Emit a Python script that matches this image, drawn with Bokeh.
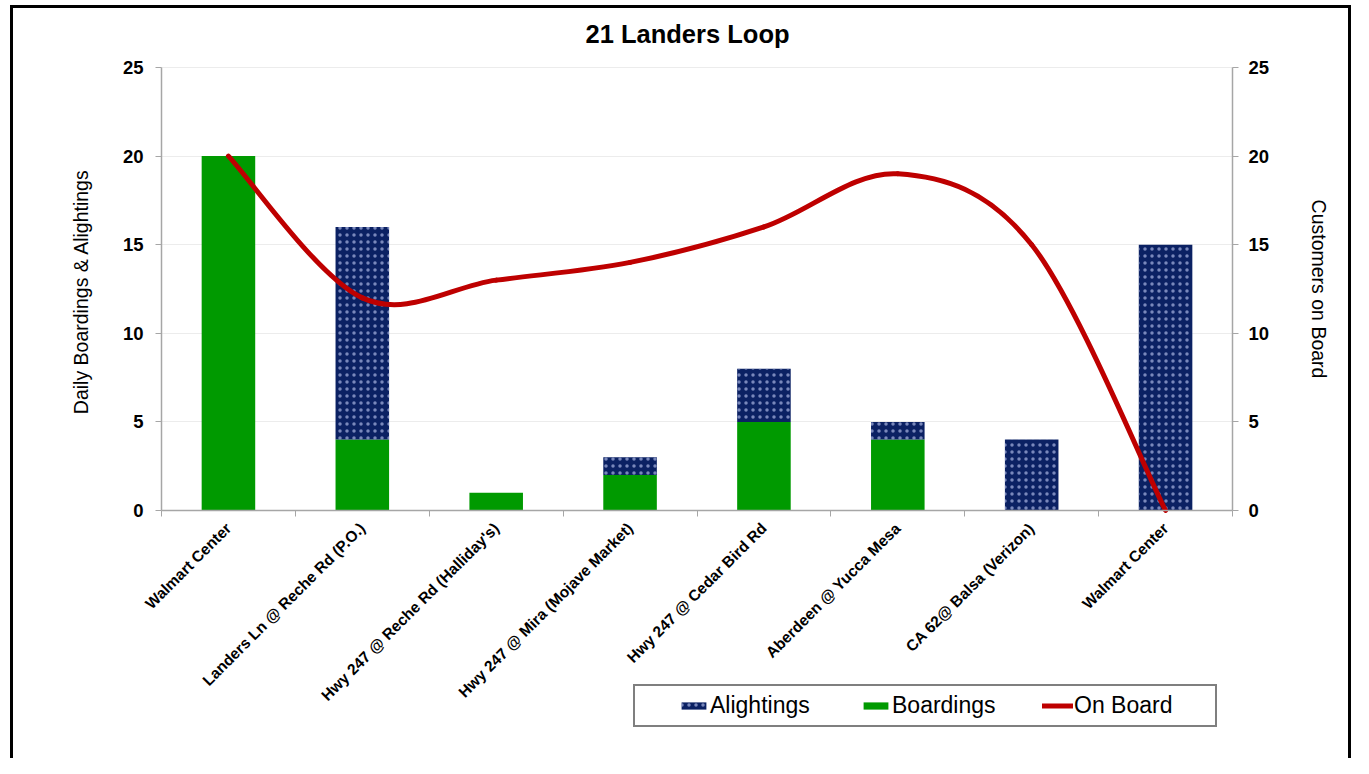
import math
from bokeh.plotting import figure
from bokeh.models import Range1d, LinearAxis, FixedTicker, Legend, LegendItem, Label
from bokeh.embed import file_html
from bokeh.resources import INLINE

# ---- data ----
stops = [
    "Walmart Center",
    "Landers Ln @ Reche Rd (P.O.)",
    "Hwy 247 @ Reche Rd (Halliday's)",
    "Hwy 247 @ Mira (Mojave Market)",
    "Hwy 247 @ Cedar Bird Rd",
    "Aberdeen @ Yucca Mesa",
    "CA 62@ Balsa (Verizon)",
    "Walmart Center",
]
boardings = [20, 4, 1, 2, 5, 4, 0, 0]
alightings = [0, 12, 0, 1, 3, 1, 4, 15]
on_board = [20, 12, 13, 14, 16, 19, 15, 0]
y_ticks = [0, 5, 10, 15, 20, 25]

GREEN = "#009A00"
NAVY = "#0B2163"
RED = "#BE0000"
FONT = "Liberation Sans"
AXIS_GRAY = "#a6a6a6"

n = len(stops)
xc = [i + 0.5 for i in range(n)]
Y_TOP = 25

# ---- layout (pixels) ----
FRAME_L, FRAME_R, FRAME_T, FRAME_B = 40, 1345, 55, 750    # drawing area
AX_L, AX_R, AX_TOP, AX_0 = 161, 1232, 67, 510              # plot area
px_x = (AX_R - AX_L) / n
px_y = (AX_0 - AX_TOP) / Y_TOP
x_start = -(AX_L - FRAME_L) / px_x
x_end = n + (FRAME_R - AX_R) / px_x
y_start = -(FRAME_B - AX_0) / px_y
y_end = Y_TOP + (AX_TOP - FRAME_T) / px_y

p = figure(
    frame_width=FRAME_R - FRAME_L, frame_height=FRAME_B - FRAME_T,
    x_range=Range1d(x_start, x_end), y_range=Range1d(y_start, y_end),
    output_backend="svg", toolbar_location=None,
    min_border_left=FRAME_L, min_border_right=1353 - FRAME_R,
    min_border_top=FRAME_T, min_border_bottom=758 - FRAME_B,
)
p.border_fill_color = None
p.outline_line_color = None
p.background_fill_color = "white"
p.styles = {
    "background-color": "white",
    "background-image": "linear-gradient(#000,#000), linear-gradient(#000,#000), linear-gradient(#000,#000)",
    "background-size": "3px 100%, calc(100% - 12px) 3px, 3px 100%",
    "background-position": "10px 5px, 10px 5px, right 2px top 5px",
    "background-repeat": "no-repeat",
}

# title
p.title.text = "21 Landers Loop"
p.title.text_font = FONT
p.title.text_font_size = "25.5px"
p.title.text_font_style = "bold"
p.title.text_color = "black"
p.title.align = "left"
p.title.offset = 585 - FRAME_L
p.title.standoff = 16

# grid (only across the plot area)
p.xgrid.visible = False
p.ygrid.ticker = FixedTicker(ticks=y_ticks[1:])
p.ygrid.grid_line_color = "#ececec"
if "cross_bounds" in p.ygrid.properties():
    p.ygrid.cross_bounds = (0, n)
else:
    p.ygrid.visible = False
    p.segment(x0=[0] * (len(y_ticks) - 1), x1=[n] * (len(y_ticks) - 1),
              y0=y_ticks[1:], y1=y_ticks[1:], line_color="#ececec", line_width=1)

# bars
tops = [b + a for b, a in zip(boardings, alightings)]
r_board = p.vbar(x=xc, bottom=0, top=boardings, width=0.4,
                 fill_color=GREEN, line_color=None)
r_alight = p.vbar(x=xc, bottom=boardings, top=tops, width=0.4,
                  fill_color=NAVY, line_color=None,
                  hatch_pattern="dot", hatch_color="#a8b4e0",
                  hatch_scale=7, hatch_weight=0.9, hatch_alpha=0.7)

# smoothed "On Board" line (cubic Bezier segments between data points)
x0, y0, x1, y1, cx0, cy0, cx1, cy1 = [], [], [], [], [], [], [], []
for i in range(n - 1):
    pa = i - 1 if i > 0 else i
    pb = i + 2 if i + 2 < n else i + 1
    x0.append(xc[i]); y0.append(on_board[i])
    x1.append(xc[i + 1]); y1.append(on_board[i + 1])
    cx0.append(xc[i] + (xc[i + 1] - xc[pa]) / 6)
    cy0.append(on_board[i] + (on_board[i + 1] - on_board[pa]) / 6)
    cx1.append(xc[i + 1] - (xc[pb] - xc[i]) / 6)
    cy1.append(on_board[i + 1] - (on_board[pb] - on_board[i]) / 6)
r_line = p.bezier(x0=x0, y0=y0, x1=x1, y1=y1, cx0=cx0, cy0=cy0, cx1=cx1, cy1=cy1,
                  line_color=RED, line_width=5, line_cap="round")

# x axis drawn at value 0
xa = p.xaxis[0]
xa.fixed_location = 0
xa.bounds = (0, n)
xa.ticker = FixedTicker(ticks=xc, minor_ticks=list(range(n + 1)))
xa.major_label_overrides = {x: s for x, s in zip(xc, stops)}
xa.major_label_orientation = math.pi / 4
xa.major_tick_out = 0
xa.major_tick_in = 0
xa.minor_tick_out = 6
xa.minor_tick_in = 0
xa.minor_tick_line_color = AXIS_GRAY
xa.axis_line_color = AXIS_GRAY
xa.axis_line_width = 1.5
xa.major_label_text_font = FONT
xa.major_label_text_font_style = "bold"
xa.major_label_text_font_size = "15.5px"
xa.major_label_text_color = "black"
xa.major_label_standoff = 9

# y axes, drawn at both ends of the category axis
ya = p.yaxis[0]
ya.fixed_location = 0
ra = LinearAxis(fixed_location=n)
p.add_layout(ra, "right")

for ax, ls in ((ya, 12), (ra, 10)):
    ax.ticker = FixedTicker(ticks=y_ticks)
    ax.bounds = (0, Y_TOP)
    ax.minor_tick_line_color = None
    ax.major_tick_out = 6
    ax.major_tick_in = 0
    ax.major_tick_line_color = AXIS_GRAY
    ax.axis_line_color = AXIS_GRAY
    ax.axis_line_width = 1.5
    ax.major_label_text_font = FONT
    ax.major_label_text_font_style = "bold"
    ax.major_label_text_font_size = "18.5px"
    ax.major_label_text_color = "black"
    ax.major_label_standoff = ls

# axis titles
left_lab = Label(x=-(AX_L - 80) / px_x, y=Y_TOP / 2, text="Daily Boardings  & Alightings",
                 angle=math.pi / 2, text_align="center", text_baseline="middle",
                 text_font=FONT, text_font_size="19.5px", text_color="black")
right_lab = Label(x=n + (1318 - AX_R) / px_x, y=Y_TOP / 2, text="Customers on Board",
                  angle=-math.pi / 2, text_align="center", text_baseline="middle",
                  text_font=FONT, text_font_size="19.5px", text_color="black")
p.add_layout(left_lab)
p.add_layout(right_lab)

# legend (inside the drawing area, under the category labels)
legend = Legend(
    items=[
        LegendItem(label="Alightings", renderers=[r_alight]),
        LegendItem(label="Boardings", renderers=[r_board]),
        LegendItem(label="On Board", renderers=[r_line]),
    ],
    location=(633 - FRAME_L, FRAME_B - 727), orientation="horizontal",
    title=" ", title_location="left", title_text_font_size="1px", title_standoff=36,
    glyph_width=31, glyph_height=9, label_height=25, label_width=135,
    label_standoff=1, spacing=15, padding=6, margin=0,
    border_line_color="black", border_line_width=2,
    background_fill_color="white", background_fill_alpha=1,
    label_text_font=FONT, label_text_font_size="23px", label_text_color="black",
)
p.add_layout(legend, "center")

open("out.html", "w").write(file_html(p, INLINE))
